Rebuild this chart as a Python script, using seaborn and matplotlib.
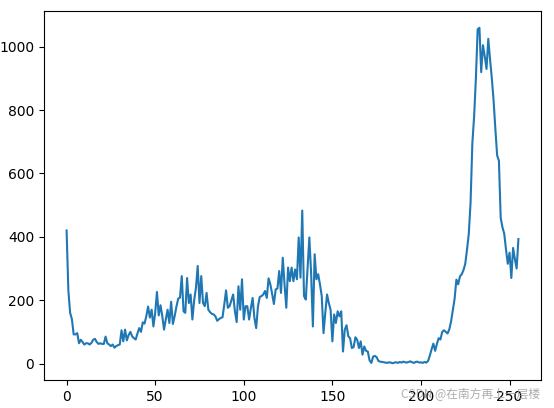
import numpy as np
import pandas as pd
import matplotlib
matplotlib.use("Agg")
import matplotlib.pyplot as plt
import seaborn as sns

# grey-level histogram counts (bins 0..255)
dark_tail = [420, 230, 160, 140, 92, 92, 96, 64, 75, 68, 60, 64, 64, 60, 65, 75,
             78, 68, 62, 64, 62, 62, 85, 64, 60, 55, 60, 50, 55, 58, 60]
low_rise = [105, 70, 107, 73, 90, 100, 86, 80, 76, 95, 112, 100, 130, 126, 150, 180,
            145, 170, 117, 160, 226, 152, 184, 150, 107, 140, 170, 128, 195, 125, 150, 180,
            205, 208, 276, 165]
mid_band = [160, 270, 191, 218, 139, 200, 239, 308, 191, 276, 191, 181, 223, 170, 162, 157,
            155, 149, 135, 140, 144, 146, 186, 231, 176, 181, 200, 218, 165, 131, 244, 170,
            266, 139]
upper_mid = [181, 181, 139, 175, 207, 144, 112, 180, 210, 213, 218, 229, 207, 269, 250, 220,
             188, 234, 237, 292, 223, 334, 250, 176, 303, 260, 303, 260, 297, 266, 398, 271,
             483, 213]
falloff = [202, 300, 398, 287, 117, 345, 266, 282, 250, 213, 96, 160, 218, 191, 170, 70,
           155, 128, 165, 149, 165, 38, 107, 121, 86, 80, 49, 52, 83, 75, 49, 70, 28, 54]
gap = [40, 38, 10, 2, 22, 24, 20, 8, 6, 5, 4, 3, 2, 4, 3, 1, 3, 4, 2, 5, 3, 6, 4, 3,
       5, 7, 4, 2, 5, 6, 3, 4, 2, 5, 3, 8]
bright_peak = [25, 45, 63, 40, 62, 80, 76, 100, 105, 100, 95, 108, 133, 170, 205, 265,
               250, 275, 282, 295, 315, 360, 410, 508, 695, 780, 900, 1055, 1060, 920, 1005, 970,
               930, 1025, 960, 900, 830, 740, 657, 640, 460, 430, 410, 360, 315, 350, 270, 365,
               330, 300, 393]

counts = dark_tail + low_rise + mid_band + upper_mid + falloff + gap + bright_peak
df = pd.DataFrame({"level": np.arange(len(counts)), "count": counts})

fig = plt.figure(figsize=(5.54, 4.08), dpi=100)
ax = fig.add_axes([44 / 554, 1 - 380 / 408, (541 - 44) / 554, (380 - 11) / 408])
sns.lineplot(data=df, x="level", y="count", ax=ax, color="#1f77b4", linewidth=1.5)
ax.set_xlabel("")
ax.set_ylabel("")
ax.set_xticks([0, 50, 100, 150, 200, 250])
ax.set_yticks([0, 200, 400, 600, 800, 1000])

# CSDN watermark in the corner
fig.text(0.975, 0.035, "CSDN @在南方再上一层楼", ha="right", va="center",
         fontsize=8.5, color="#999999", alpha=0.8,
         family=["Noto Sans CJK SC", "DejaVu Sans"])

fig.savefig("out.png", dpi=100)
